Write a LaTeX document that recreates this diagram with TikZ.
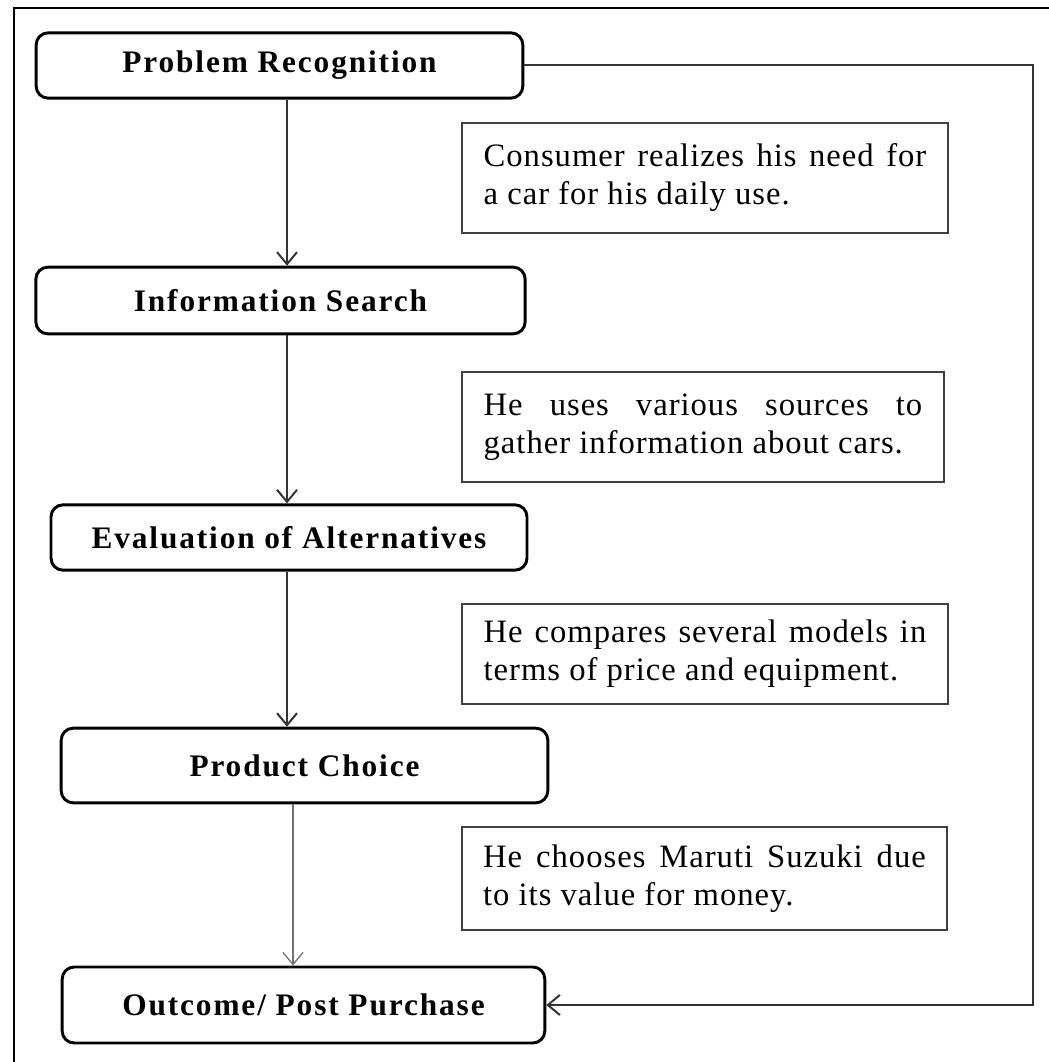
\documentclass[tikz,border=0pt]{standalone}
\usepackage{fontspec}
\setmainfont{Liberation Serif}
\newfontfamily\stepfont[LetterSpace=6]{Liberation Serif}
\newfontfamily\notefont[LetterSpace=3]{Liberation Serif}
\usetikzlibrary{arrows.meta, positioning}

\begin{document}
\begin{tikzpicture}[
      x=0.75pt, y=-0.75pt,
      stepbox/.style={draw, line width=2.2pt, rounded corners=9pt, align=center,
        font=\stepfont\bfseries\fontsize{23.5}{27}\selectfont},
      notebox/.style={draw=black!75, line width=1.6pt, text width=332pt, inner xsep=16pt,
        minimum height=82pt, align=justify,
        font=\notefont\fontsize{24.5}{28.5}\selectfont},
      flow/.style={draw=black!80, line width=1.5pt, -{Straight Barb[length=9pt,width=15pt]}},
    ]
    \useasboundingbox (0,0) rectangle (1048,1062);

    % Outer frame (runs off the page on the right and at the bottom)
    \draw[line width=1.5pt] (1060,8) -- (14,8) -- (14,1075);

    % Nodes
    \node[stepbox, minimum width=365pt, minimum height=49pt] (problem) at (279.5,65.5) {Problem Recognition};
    \node[stepbox, minimum width=367pt, minimum height=50pt] (search) at (280.5,300.5) {Information Search};
    \node[stepbox, minimum width=357pt, minimum height=49pt] (evaluation) at (289,537.5) {Evaluation of Alternatives};
    \node[stepbox, minimum width=365pt, minimum height=56pt] (choice) at (304.5,765.5) {Product Choice};
    \node[stepbox, minimum width=362pt, minimum height=57pt] (outcome) at (303.5,1005) {Outcome/ Post Purchase};

    \node[notebox] (need) at (705,178)
      {Consumer realizes his need for\linebreak a car for his daily use.};
    \node[notebox, text width=329pt] (sources) at (703,427)
      {He uses various sources to\linebreak gather information about cars.};
    \node[notebox, minimum height=75pt] (compare) at (705,654)
      {He compares several models in\linebreak terms of price and equipment.};
    \node[notebox, minimum height=77pt] (maruti) at (704.5,878.5)
      {He chooses Maruti Suzuki due\linebreak to its value for money.};

    \coordinate (spine) at (287,0);
    \coordinate (spine2) at (293,0);
    \coordinate (loop) at (1033,0);

    % Arrows
    \draw[flow] (problem.south -| spine) -- (search.north -| spine);
    \draw[flow] (search.south -| spine) -- (evaluation.north -| spine);
    \draw[flow] (evaluation.south -| spine) -- (choice.north -| spine);
    \draw[flow, draw=black!55, line width=1pt] (choice.south -| spine2) -- (outcome.north -| spine2);
    \draw[flow] (problem.east) -- (problem.east -| loop) -- (outcome.east -| loop) -- (outcome.east);
\end{tikzpicture}
\end{document}
